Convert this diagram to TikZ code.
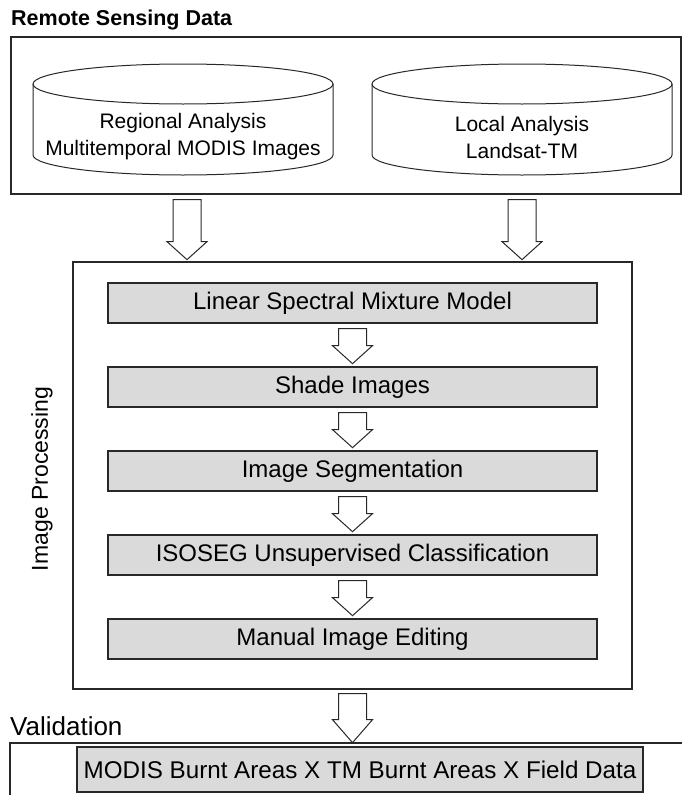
\documentclass[tikz,border=0pt]{standalone}
\usepackage{fontspec}
\setmainfont{Liberation Sans}
\usetikzlibrary{calc}
\definecolor{linec}{RGB}{40,40,40}
\definecolor{boxgray}{RGB}{218,218,218}
\tikzset{
  frame/.style={draw=linec, line width=1.3pt, inner sep=0pt},
  procbox/.style={draw=linec, line width=1.3pt, fill=boxgray, inner sep=0pt,
    minimum width=489pt, minimum height=40pt, font=\fontsize{24}{28}\selectfont},
  drum/.style={draw=linec, line width=1pt},
  hollow/.style={draw=linec, line width=1pt, fill=white, line join=miter},
  plain/.style={inner sep=0pt, font=\fontsize{21}{27}\selectfont, align=center}
}
% hollow block arrow pointing down: start point, shaft length, head length
\newcommand\hollowdown[3]{%
  \draw[hollow] #1 ++(-14,0) -- ++(0,#2) -- ++(-6,0) -- ++(20,#3)
    -- ++(20,-#3) -- ++(-6,0) -- ++(0,-#2) -- cycle;}
% open cylinder drawn around a centre point of its top ellipse
\newcommand\drumat[1]{%
  \draw[drum] ($(#1)+(-150,0)$) -- ++(0,71)
    arc[start angle=180, end angle=0, x radius=150, y radius=20] -- ($(#1)+(150,0)$);
  \draw[drum] (#1) ellipse[x radius=150, y radius=20];}
\begin{document}
\begin{tikzpicture}[x=1pt, y=-1pt]
\useasboundingbox (0,0) rectangle (682,795);

% Remote sensing data
\node[anchor=base west, inner sep=0pt, font=\bfseries\fontsize{21.5}{25}\selectfont] (rstitle) at (11,25) {Remote Sensing Data};
\node[frame, minimum width=670pt, minimum height=157pt] (rsbox) at (346,115.5) {};
\coordinate (cylL) at (183,84);
\coordinate (cylR) at (522,84);
\drumat{cylL}
\drumat{cylR}
\node[plain] (regional) at (183,137) {Regional Analysis\\Multitemporal MODIS Images};
\node[plain] (local) at (522,137) {Local Analysis\\Landsat-TM};

% Image processing
\node[frame, minimum width=559pt, minimum height=427pt] (ipbox) at (352.5,475.5) {};
\node[rotate=90, inner sep=0pt, font=\fontsize{23}{27}\selectfont] (iptitle) at (42,479) {Image Processing};
\node[procbox] (lsmm) at (352.5,303) {Linear Spectral Mixture Model};
\node[procbox] (shade) at (352.5,387) {Shade Images};
\node[procbox] (segm) at (352.5,471) {Image Segmentation};
\node[procbox] (isoseg) at (352.5,555) {ISOSEG Unsupervised Classification};
\node[procbox] (edit) at (352.5,639) {Manual Image Editing};

\hollowdown{($(rsbox.south -| cylL)+(4,5)$)}{42}{18}
\hollowdown{($(rsbox.south -| cylR)+(0,5)$)}{42}{18}
\hollowdown{($(lsmm.south)+(0,5)$)}{17}{18}
\hollowdown{($(shade.south)+(0,5)$)}{17}{18}
\hollowdown{($(segm.south)+(0,5)$)}{17}{18}
\hollowdown{($(isoseg.south)+(0,5)$)}{17}{18}

% Validation
\node[anchor=base west, inner sep=0pt, font=\fontsize{26}{30}\selectfont] (valtitle) at (10,735) {Validation};
\coordinate (valtl) at (10,743);
\draw[draw=linec, line width=1.3pt] (valtl |- 0,800) -- (valtl) -- (690,743);
\hollowdown{($(ipbox.south)+(0,4)$)}{26}{23}
\node[procbox, minimum width=566pt, minimum height=45pt, font=\fontsize{24.2}{28}\selectfont] (valbox) at (360,769.5) {MODIS Burnt Areas X TM Burnt Areas X Field Data};
\end{tikzpicture}
\end{document}
